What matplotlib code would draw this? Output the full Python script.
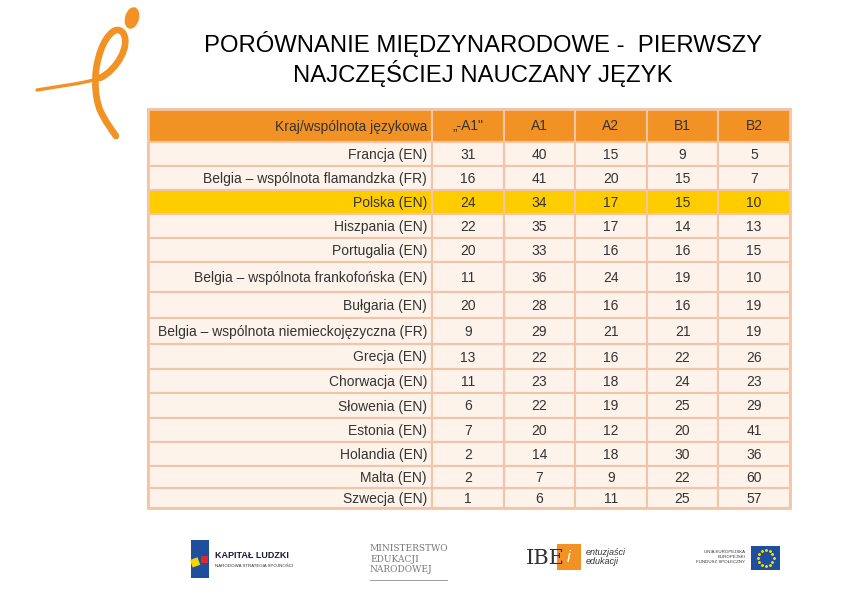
import matplotlib.pyplot as plt
import numpy as np
from matplotlib.patches import Rectangle, Ellipse, PathPatch
from matplotlib.path import Path

plt.rcParams['font.family'] = ['Liberation Sans', 'DejaVu Sans']

# Data
title = "PORÓWNANIE MIĘDZYNARODOWE -  PIERWSZY\nNAJCZĘŚCIEJ NAUCZANY JĘZYK"
first_header = "Kraj/wspólnota językowa"
levels = ["„-A1\"", "A1", "A2", "B1", "B2"]
countries = ["Francja (EN)", "Belgia – wspólnota flamandzka (FR)", "Polska (EN)",
             "Hiszpania (EN)", "Portugalia (EN)", "Belgia – wspólnota frankofońska (EN)",
             "Bułgaria (EN)", "Belgia – wspólnota niemieckojęzyczna (FR)", "Grecja (EN)",
             "Chorwacja (EN)", "Słowenia (EN)", "Estonia (EN)", "Holandia (EN)",
             "Malta (EN)", "Szwecja (EN)"]
below_a1 = [31, 16, 24, 22, 20, 11, 20, 9, 13, 11, 6, 7, 2, 2, 1]
a1 = [40, 41, 34, 35, 33, 36, 28, 29, 22, 23, 22, 20, 14, 7, 6]
a2 = [15, 20, 17, 17, 16, 24, 16, 21, 16, 18, 19, 12, 18, 9, 11]
b1 = [9, 15, 15, 14, 16, 19, 16, 21, 22, 24, 25, 20, 30, 22, 25]
b2 = [5, 7, 10, 13, 15, 10, 19, 19, 26, 23, 29, 41, 36, 60, 57]
highlight = "Polska (EN)"

values = [below_a1, a1, a2, b1, b2]

# layout (pixel coordinates of the slide)
col_edges = [148, 432, 504, 575, 647, 718, 790]
row_edges = [109, 142, 166, 190, 214, 238, 262, 292, 318, 344, 369, 393, 418, 442, 466, 488, 508]

orange = "#F39224"
cream = "#FEF3EA"
yellow = "#FFCC00"
border = "#F2C4A8"
txt = "#333333"

fig = plt.figure(figsize=(8.42, 5.95), dpi=100)
ax = fig.add_axes([0, 0, 1, 1])
ax.set_xlim(0, 842)
ax.set_ylim(595, 0)
ax.axis('off')

# title
ax.text(483, 59, title, ha='center', va='center', fontsize=17.2,
        color='black', linespacing=1.1)

# orange "i" logo
ax.add_patch(Ellipse((132, 18), 14, 22, angle=15, color=orange, lw=0))
tail = Path([(37, 90), (60, 86), (82, 84), (100, 78)],
            [Path.MOVETO, Path.CURVE4, Path.CURVE4, Path.CURVE4])
ax.add_patch(PathPatch(tail, fill=False, ec=orange, lw=2.4, capstyle='round'))
loop = Path([(100, 78), (117, 70), (131, 45), (123, 33),
             (115, 23), (103, 40), (99, 56),
             (94, 72), (94, 95), (100, 110),
             (105, 121), (111, 129), (116, 136)],
            [Path.MOVETO] + [Path.CURVE4] * 12)
ax.add_patch(PathPatch(loop, fill=False, ec=orange, lw=4.8, capstyle='round'))

# table
n_cols = len(col_edges) - 1
header = [first_header] + levels
for j in range(n_cols):
    x0, x1 = col_edges[j], col_edges[j + 1]
    y0, y1 = row_edges[0], row_edges[1]
    ax.add_patch(Rectangle((x0, y0), x1 - x0, y1 - y0, fc=orange, ec=border, lw=1.5))
    yc = (y0 + y1) / 2 + 1
    if j == 0:
        ax.text(x1 - 5, yc, header[j], ha='right', va='center', fontsize=10, color=txt)
    else:
        ax.text((x0 + x1) / 2, yc, header[j], ha='center', va='center', fontsize=10, color=txt)

for i, c in enumerate(countries):
    y0, y1 = row_edges[i + 1], row_edges[i + 2]
    yc = (y0 + y1) / 2 + 1
    fc = yellow if c == highlight else cream
    for j in range(n_cols):
        x0, x1 = col_edges[j], col_edges[j + 1]
        ax.add_patch(Rectangle((x0, y0), x1 - x0, y1 - y0, fc=fc, ec=border, lw=1.5))
    ax.text(col_edges[1] - 5, yc, c, ha='right', va='center', fontsize=10, color=txt)
    for j, col in enumerate(values):
        xc = (col_edges[j + 1] + col_edges[j + 2]) / 2
        ax.text(xc, yc, str(col[i]), ha='center', va='center', fontsize=10, color=txt)

# outer frame
ax.add_patch(Rectangle((col_edges[0], row_edges[0]), col_edges[-1] - col_edges[0],
                       row_edges[-1] - row_edges[0], fill=False, ec=border, lw=2))

# sponsor logos at the bottom
ax.add_patch(Rectangle((191, 540), 18, 38, fc="#1F4E9C", lw=0))
ax.add_patch(Rectangle((190, 560), 8, 8, fc="#F4D800", lw=0, angle=-20))
ax.add_patch(Rectangle((201, 556), 7, 7, fc="#E3262E", lw=0))
ax.text(215, 555, "KAPITAŁ LUDZKI", fontsize=6.5, fontweight='bold', color="#1B1B3A", va='center')
ax.text(215, 566, "NARODOWA STRATEGIA SPÓJNOŚCI", fontsize=3.2, color="#333333", va='center')

ax.text(370, 559, "MINISTERSTWO\nEDUKACJI\nNARODOWEJ", fontsize=6.5, family='DejaVu Serif',
        color="#777777", va='center', linespacing=1.25)
ax.plot([370, 447], [580, 580], color="#8A8A8A", lw=0.6)

ax.text(526, 558, "IBE", fontsize=15, family='DejaVu Serif', color="#333333", va='center')
ax.add_patch(Rectangle((557, 544), 24, 26, fc=orange, lw=0))
ax.text(569, 557, "i", fontsize=12, color='white', ha='center', va='center', style='italic')
ax.text(586, 557, "entuzjaści\nedukacji", fontsize=6.5, style='italic', color="#333333",
        va='center', linespacing=1.0)

ax.text(745, 557, "UNIA EUROPEJSKA\nEUROPEJSKI\nFUNDUSZ SPOŁECZNY", fontsize=3.2, color="#333333",
        ha='right', va='center', linespacing=1.4)
ax.add_patch(Rectangle((751, 546), 29, 24, fc="#1F4E9C", lw=0))
ang = np.linspace(0, 2 * np.pi, 12, endpoint=False)
ax.scatter(765.5 + 8 * np.cos(ang), 558 + 8 * np.sin(ang), s=1.5, color="#F4D800", marker='*')

fig.savefig("out.png", dpi=100)
